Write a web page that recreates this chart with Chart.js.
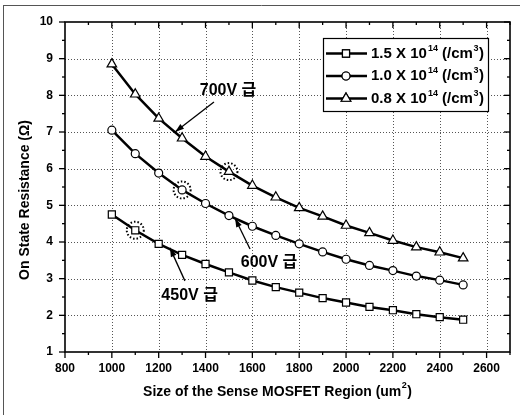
<!DOCTYPE html>
<html lang="ko">
<head>
<meta charset="UTF-8">
<title>On State Resistance</title>
<script src="https://cdn.jsdelivr.net/npm/chart.js"></script>
<style>
  html, body { margin: 0; padding: 0; background: #fff; }
  #wrap { width: 520px; height: 415px; }
</style>
</head>
<body>
<div id="wrap"><canvas id="grafico" width="520" height="415"></canvas></div>

<script>
// dados
const sizes = [1000, 1100, 1200, 1300, 1400, 1500, 1600, 1700, 1800, 1900, 2000, 2100, 2200, 2300, 2400, 2500];
const res15 = [4.75, 4.32, 3.95, 3.65, 3.40, 3.17, 2.95, 2.77, 2.62, 2.47, 2.35, 2.23, 2.14, 2.03, 1.95, 1.88];
const res10 = [7.05, 6.41, 5.88, 5.42, 5.05, 4.72, 4.43, 4.18, 3.95, 3.73, 3.53, 3.36, 3.22, 3.07, 2.96, 2.83];
const res08 = [8.85, 8.03, 7.37, 6.83, 6.33, 5.92, 5.54, 5.22, 4.93, 4.70, 4.45, 4.25, 4.04, 3.86, 3.72, 3.56];

const seriesNames = ['1.5 X 10', '1.0 X 10', '0.8 X 10'];
const seriesExp = '14';
const seriesStyles = ['rect', 'circle', 'triangle'];

const xTicks = [800, 1000, 1200, 1400, 1600, 1800, 2000, 2200, 2400, 2600];
const yTicks = [1, 2, 3, 4, 5, 6, 7, 8, 9, 10];

const xTitle = 'Size of the Sense MOSFET Region (um';
const yTitle = 'On State Resistance (Ω)';

// anotações: texto, posição do texto, início e fim da seta (unidades dos dados)
const notes = [
    { text: '700V 급', at: [1496, 8.12], from: [1436, 7.82], to: [1270, 7.00] },
    { text: '600V 급', at: [1671, 3.45], from: [1590, 3.81], to: [1526, 4.65] },
    { text: '450V 급', at: [1332, 2.55], from: [1312, 2.94], to: [1248, 3.84] }
];
// pontos destacados (série, índice)
const destaques = [[2, 5], [1, 3], [0, 1]];

const FONTE = "'Liberation Sans', Arial, 'Noto Sans CJK KR', sans-serif";

function pontos(valores) {
    return sizes.map(function (x, i) { return { x: x, y: valores[i] }; });
}

function linha(ctx, x1, y1, x2, y2) {
    ctx.beginPath();
    ctx.moveTo(x1, y1);
    ctx.lineTo(x2, y2);
    ctx.stroke();
}

const moldura = {
    id: 'moldura',
    beforeDatasetsDraw(chart) {
        const { ctx, chartArea: a, scales: { x, y } } = chart;
        ctx.save();
        ctx.strokeStyle = '#555';
        ctx.lineWidth = 1;
        ctx.setLineDash([1, 2]);
        xTicks.forEach(function (v) {
            if (v === 800) return;
            const px = Math.round(x.getPixelForValue(v)) + 0.5;
            linha(ctx, px, a.top, px, a.bottom);
        });
        yTicks.forEach(function (v) {
            if (v === 1 || v === 10) return;
            const py = Math.round(y.getPixelForValue(v)) + 0.5;
            linha(ctx, a.left, py, a.right, py);
        });
        ctx.restore();
    },
    afterDraw(chart) {
        const { ctx, chartArea: a, scales: { x, y } } = chart;
        ctx.save();

        // borda externa da figura
        ctx.strokeStyle = '#555';
        ctx.lineWidth = 1;
        linha(ctx, 3, 5.5, 520, 5.5);
        linha(ctx, 3.5, 5, 3.5, 415);

        // moldura do gráfico
        ctx.strokeStyle = '#000';
        ctx.lineWidth = 1.6;
        ctx.strokeRect(a.left, a.top, a.right - a.left, a.bottom - a.top);

        // marcas dos eixos
        ctx.lineWidth = 1.3;
        for (let v = 900; v <= 2700; v += 100) {
            const px = x.getPixelForValue(v);
            const len = (v % 200 === 0) ? 6 : 3;
            linha(ctx, px, a.bottom, px, a.bottom + len);
            linha(ctx, px, a.top, px, a.top + len);
        }
        for (let v = 1.5; v <= 10; v += 0.5) {
            const py = y.getPixelForValue(v);
            const len = (v % 1 === 0) ? 6 : 3;
            linha(ctx, a.left, py, a.left - len, py);
            linha(ctx, a.right, py, a.right - len, py);
        }
        linha(ctx, a.left, a.bottom, a.left - 6, a.bottom);
        linha(ctx, a.left, a.bottom, a.left, a.bottom + 6);

        // títulos dos eixos
        ctx.fillStyle = '#000';
        ctx.textBaseline = 'middle';
        ctx.font = 'bold 14px ' + FONTE;
        const wT = ctx.measureText(xTitle).width;
        ctx.font = 'bold 9px ' + FONTE;
        const wS = ctx.measureText('2').width;
        ctx.font = 'bold 14px ' + FONTE;
        const wP = ctx.measureText(')').width;
        let tx = 277 - (wT + wS + wP) / 2;
        ctx.textAlign = 'left';
        ctx.fillText(xTitle, tx, 392);
        ctx.font = 'bold 9px ' + FONTE;
        ctx.fillText('2', tx + wT + 0.5, 386);
        ctx.font = 'bold 14px ' + FONTE;
        ctx.fillText(')', tx + wT + wS + 1, 392);

        ctx.save();
        ctx.translate(25, 200);
        ctx.rotate(-Math.PI / 2);
        ctx.textAlign = 'center';
        ctx.fillText(yTitle, 0, 0);
        ctx.restore();

        // pontos destacados (círculo pontilhado)
        ctx.save();
        ctx.lineWidth = 2;
        ctx.setLineDash([1.5, 2]);
        destaques.forEach(function (d) {
            const p = chart.getDatasetMeta(d[0]).data[d[1]];
            ctx.beginPath();
            ctx.arc(p.x, p.y, 8.5, 0, Math.PI * 2);
            ctx.stroke();
        });
        ctx.restore();

        // anotações com seta
        notes.forEach(function (n) {
            const x1 = x.getPixelForValue(n.from[0]), y1 = y.getPixelForValue(n.from[1]);
            const x2 = x.getPixelForValue(n.to[0]), y2 = y.getPixelForValue(n.to[1]);
            ctx.lineWidth = 1.3;
            linha(ctx, x1, y1, x2, y2);
            const ang = Math.atan2(y2 - y1, x2 - x1);
            ctx.beginPath();
            ctx.moveTo(x2, y2);
            ctx.lineTo(x2 - 9 * Math.cos(ang) + 3 * Math.sin(ang), y2 - 9 * Math.sin(ang) - 3 * Math.cos(ang));
            ctx.lineTo(x2 - 9 * Math.cos(ang) - 3 * Math.sin(ang), y2 - 9 * Math.sin(ang) + 3 * Math.cos(ang));
            ctx.closePath();
            ctx.fill();
            ctx.font = 'bold 16px ' + FONTE;
            ctx.textAlign = 'center';
            ctx.textBaseline = 'middle';
            ctx.fillText(n.text, x.getPixelForValue(n.at[0]), y.getPixelForValue(n.at[1]));
        });

        // legenda
        const lx = 323, ly = 38, lw = 165, lh = 73;
        ctx.fillStyle = '#fff';
        ctx.fillRect(lx, ly, lw, lh);
        ctx.strokeStyle = '#000';
        ctx.lineWidth = 1.2;
        ctx.strokeRect(lx + 0.5, ly + 0.5, lw, lh);
        chart.data.datasets.forEach(function (ds, i) {
            const ry = ly + 15.5 + i * 22.5;
            ctx.strokeStyle = '#000';
            ctx.lineWidth = 2.5;
            linha(ctx, lx + 3, ry, lx + 44, ry);
            ctx.fillStyle = '#fff';
            ctx.lineWidth = 1.2;
            Chart.helpers.drawPoint(ctx, { pointStyle: ds.pointStyle, radius: ds.pointRadius, borderWidth: 1.2 }, lx + 23, ry);
            ctx.fill();
            ctx.stroke();
            ctx.fillStyle = '#000';
            ctx.textAlign = 'left';
            ctx.textBaseline = 'middle';
            let cx = lx + 48;
            ctx.font = 'bold 15px ' + FONTE;
            ctx.fillText(seriesNames[i], cx, ry);
            cx += ctx.measureText(seriesNames[i]).width + 1;
            ctx.font = 'bold 9px ' + FONTE;
            ctx.fillText(seriesExp, cx, ry - 5);
            cx += ctx.measureText(seriesExp).width;
            ctx.font = 'bold 15px ' + FONTE;
            ctx.fillText(' (/cm', cx, ry);
            cx += ctx.measureText(' (/cm').width + 0.5;
            ctx.font = 'bold 9px ' + FONTE;
            ctx.fillText('3', cx, ry - 5);
            cx += ctx.measureText('3').width + 0.5;
            ctx.font = 'bold 15px ' + FONTE;
            ctx.fillText(')', cx, ry);
        });

        ctx.restore();
    }
};

function serie(label, valores, estilo, raio) {
    return {
        label: label,
        data: pontos(valores),
        borderColor: '#000',
        borderWidth: 2.5,
        pointStyle: estilo,
        pointRadius: raio,
        pointBackgroundColor: '#fff',
        pointBorderColor: '#000',
        pointBorderWidth: 1.2,
        tension: 0,
        fill: false
    };
}

function semVirgula(v) {
    return String(v);
}

const config = {
    type: 'line',
    data: {
        datasets: [
            serie(seriesNames[0], res15, seriesStyles[0], 5),
            serie(seriesNames[1], res10, seriesStyles[1], 4),
            serie(seriesNames[2], res08, seriesStyles[2], 5.5)
        ]
    },
    options: {
        responsive: false,
        animation: false,
        layout: { padding: { left: 0, right: 10, top: 22, bottom: 0 } },
        plugins: { legend: { display: false }, tooltip: { enabled: false } },
        scales: {
            x: {
                type: 'linear',
                min: 800,
                max: 2700,
                afterBuildTicks: function (s) { s.ticks = xTicks.map(function (v) { return { value: v }; }); },
                afterFit: function (s) { s.height = 63; },
                grid: { display: false, drawTicks: false },
                border: { display: false },
                ticks: {
                    padding: 9,
                    maxRotation: 0,
                    color: '#000',
                    callback: semVirgula,
                    font: { family: FONTE, size: 12, weight: 'bold' }
                }
            },
            y: {
                type: 'linear',
                min: 1,
                max: 10,
                afterBuildTicks: function (s) { s.ticks = yTicks.map(function (v) { return { value: v }; }); },
                afterFit: function (s) { s.width = 65; },
                grid: { display: false, drawTicks: false },
                border: { display: false },
                ticks: {
                    padding: 12,
                    color: '#000',
                    callback: semVirgula,
                    font: { family: FONTE, size: 12, weight: 'bold' }
                }
            }
        }
    },
    plugins: [moldura]
};

new Chart(document.getElementById('grafico'), config);
</script>
</body>
</html>
